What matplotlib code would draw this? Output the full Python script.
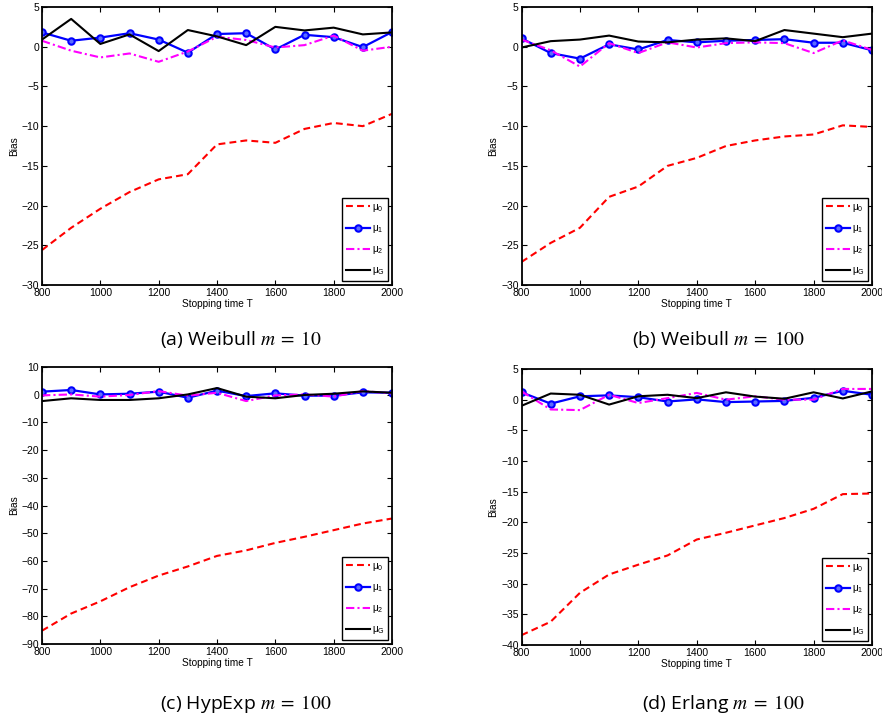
import numpy as np
import matplotlib.pyplot as plt

T = [800, 900, 1000, 1100, 1200, 1300, 1400, 1500, 1600, 1700, 1800, 1900, 2000]

# (a) Weibull m = 10
a_mu0 = [-25.6, -22.8, -20.4, -18.3, -16.7, -16.05, -12.3, -11.8, -12.1, -10.35, -9.6, -10.0, -8.45]
a_mu1 = [1.8, 0.75, 1.15, 1.7, 0.9, -0.75, 1.6, 1.7, -0.35, 1.5, 1.2, -0.05, 1.85]
a_mu2 = [0.75, -0.5, -1.35, -0.85, -1.9, -0.6, 1.25, 0.85, -0.1, 0.2, 1.4, -0.5, 0.0]
a_muG = [0.9, 3.5, 0.35, 1.55, -0.55, 2.1, 1.3, 0.2, 2.5, 2.05, 2.4, 1.55, 1.8]

# (b) Weibull m = 100
b_mu0 = [-27.1, -24.7, -22.8, -18.9, -17.6, -15.0, -14.0, -12.5, -11.8, -11.3, -11.05, -9.9, -10.1]
b_mu1 = [1.05, -0.8, -1.5, 0.3, -0.35, 0.85, 0.55, 0.75, 0.85, 0.95, 0.5, 0.5, -0.45]
b_mu2 = [0.9, -0.45, -2.5, 0.45, -0.8, 0.55, -0.1, 0.45, 0.55, 0.45, -0.8, 0.8, -0.4]
b_muG = [-0.1, 0.7, 0.9, 1.4, 0.65, 0.55, 0.9, 1.05, 0.7, 2.1, 1.65, 1.2, 1.65]

# (c) HypExp m = 100
c_mu0 = [-85.2, -79.0, -74.6, -69.5, -65.3, -62.0, -58.2, -56.2, -53.5, -51.3, -48.9, -46.5, -44.7]
c_mu1 = [1.1, 1.7, 0.1, 0.35, 1.1, -1.1, 1.45, -0.5, 0.5, -0.35, -0.35, 0.85, 0.7]
c_mu2 = [-0.25, 0.1, -0.7, -0.1, 1.3, -0.35, 0.7, -2.3, -0.25, 0.1, -0.7, 1.3, 0.5]
c_muG = [-2.3, -1.3, -1.9, -1.9, -1.3, 0.1, 2.4, -0.7, -1.3, -0.1, 0.35, 1.2, 0.7]

# (d) Erlang m = 100
d_mu0 = [-38.4, -36.2, -31.5, -28.5, -26.9, -25.4, -22.8, -21.7, -20.5, -19.3, -17.8, -15.4, -15.3]
d_mu1 = [1.2, -0.65, 0.55, 0.7, 0.4, -0.3, 0.05, -0.4, -0.3, -0.2, 0.3, 1.45, 0.8]
d_mu2 = [1.35, -1.6, -1.7, 0.8, -0.55, 0.25, 1.1, 0.0, 0.55, 0.0, 0.0, 1.75, 1.75]
d_muG = [-1.0, 1.0, 0.8, -0.8, 0.55, 0.8, 0.25, 1.2, 0.5, 0.15, 1.2, 0.2, 1.35]

captions = ['(a) Weibull $m\\;=\\;10$', '(b) Weibull $m\\;=\\;100$',
            '(c) HypExp $m\\;=\\;100$', '(d) Erlang $m\\;=\\;100$']
ylims = [(-30, 5), (-30, 5), (-90, 10), (-40, 5)]
ysteps = [5, 5, 10, 5]

plt.rcParams['font.family'] = ['Liberation Sans', 'DejaVu Sans']
plt.rcParams['mathtext.fontset'] = 'custom'
plt.rcParams['mathtext.rm'] = 'Liberation Sans'
plt.rcParams['mathtext.it'] = 'Liberation Sans'

fig = plt.figure(figsize=(8.82, 7.22), dpi=100)

W, H = 882.0, 722.0
boxes = [(42, 7, 392, 285), (521.5, 7, 872, 285),
         (42, 367, 392, 644), (521.5, 369, 872, 645)]
cap_pos = [(241, 340), (718, 340), (246, 704), (723, 704)]

data = [(a_mu0, a_mu1, a_mu2, a_muG), (b_mu0, b_mu1, b_mu2, b_muG),
        (c_mu0, c_mu1, c_mu2, c_muG), (d_mu0, d_mu1, d_mu2, d_muG)]

for i in range(4):
    x0, y0, x1, y1 = boxes[i]
    ax = fig.add_axes([x0 / W, 1 - y1 / H, (x1 - x0) / W, (y1 - y0) / H])
    mu0, mu1, mu2, muG = data[i]

    ax.plot(T, mu0, color='#ff0000', ls=(0, (3.3, 2)), lw=1.5, label=r'$\mu_0$')
    ax.plot(T, mu1, color='#0000ff', lw=1.6, marker='o', ms=4.6, mew=1.5,
            mfc='#5a6cff', label=r'$\mu_1$')
    ax.plot(T, mu2, color='#ff00ff', ls=(0, (4, 1.5, 1, 1.5)), lw=1.5, label=r'$\mu_2$')
    ax.plot(T, muG, color='black', lw=1.5, label=r'$\mu_G$')

    ax.set_xlim(800, 2000)
    ax.set_ylim(*ylims[i])
    ax.set_xticks(np.arange(800, 2001, 200))
    ax.set_yticks(np.arange(ylims[i][0], ylims[i][1] + 1, ysteps[i]))
    ax.tick_params(direction='in', top=True, right=True, labelsize=7.5,
                   length=3.5, width=0.8, pad=2)
    for s in ax.spines.values():
        s.set_linewidth(1.3)

    ax.set_ylabel('Bias', fontsize=7.3, labelpad=2)
    ax.set_xlabel('Stopping time T', fontsize=7.3, labelpad=1)

    leg = ax.legend(loc='lower right', fontsize=7.3, handlelength=2.3,
                    handletextpad=0.2, labelspacing=0.9, borderpad=0.4,
                    borderaxespad=0.35, fancybox=False, framealpha=1)
    leg.get_frame().set_edgecolor('black')
    leg.get_frame().set_linewidth(1.0)

    cx, cy = cap_pos[i]
    fig.text(cx / W, 1 - cy / H, captions[i], ha='center', va='center',
             fontsize=14, family='Open Sans', math_fontfamily='stix')

fig.savefig('out.png', dpi=100)
